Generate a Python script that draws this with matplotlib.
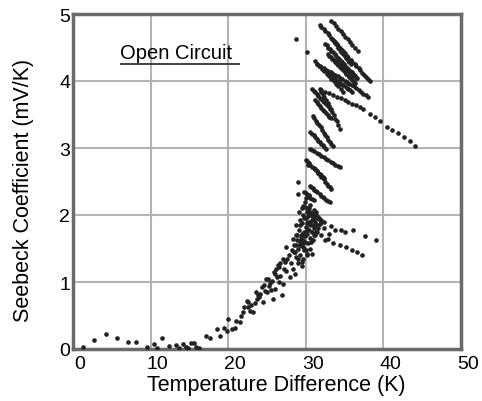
import numpy as np
import matplotlib
matplotlib.use('Agg')
import matplotlib.pyplot as plt
from matplotlib.transforms import ScaledTranslation

plt.rcParams['font.family'] = ['Liberation Sans', 'DejaVu Sans']

# low range, temperature difference below ~17 K
t_low = [1.3, 2.7, 4.2, 5.7, 7.1, 8.1, 9.5, 10.5, 10.8, 11.5, 12.4, 13.3, 13.6,
         14.2, 14.5, 14.8, 15.2, 15.6, 15.9, 16.3]
s_low = [0.03, 0.14, 0.22, 0.17, 0.11, 0.10, 0.03, 0.07, 0.02, 0.16, 0.05, 0.06, 0.02,
         0.08, 0.03, 0.02, 0.09, 0.09, 0.03, 0.02]

# rising part of the curve
t_rise = [17.2, 17.6, 18.5, 18.9, 19.4, 19.8, 20.0, 20.5, 20.9, 21.5, 21.7, 22.4, 22.6,
          22.8, 23.2, 23.7, 23.9, 24.1, 24.5, 24.7, 25.0, 25.2, 25.6, 25.8, 26.0, 26.0,
          26.5, 26.7, 26.7, 26.9, 27.1, 27.5, 27.5, 28.0, 28.4, 28.4, 28.6, 29.0, 29.5,
          29.7, 30.1, 22.1, 23.0, 24.3, 25.4, 26.2, 27.0, 27.8, 28.2, 28.8, 29.2, 24.9,
          26.4, 27.3, 28.9, 21.0, 21.9, 22.5, 23.4, 23.6, 24.0, 24.6, 25.1, 25.5, 25.9,
          26.3, 26.6, 27.2, 27.6, 28.1, 28.5, 28.7, 29.3, 29.6, 29.8]
s_rise = [0.19, 0.17, 0.30, 0.19, 0.32, 0.27, 0.45, 0.30, 0.31, 0.40, 0.50, 0.72, 0.70,
          0.57, 0.55, 0.75, 0.80, 0.82, 0.70, 0.87, 0.85, 0.94, 1.02, 0.75, 0.90, 1.12,
          1.00, 1.09, 1.29, 0.80, 0.97, 1.17, 1.52, 1.07, 1.19, 1.64, 1.12, 1.29, 1.24,
          1.34, 1.42, 0.62, 0.66, 0.92, 0.98, 1.20, 1.35, 1.40, 1.48, 1.55, 1.60, 1.05,
          1.25, 1.30, 1.70, 0.42, 0.55, 0.62, 0.68, 0.85, 0.78, 0.95, 1.05, 0.88, 1.15,
          1.08, 1.22, 1.20, 1.35, 1.28, 1.45, 1.38, 1.55, 1.62, 1.48]

# dense cluster near 30 K
t_knee = [28.6, 28.9, 29.1, 29.3, 29.5, 29.6, 29.8, 29.9, 30.0, 30.1, 30.2, 30.3, 30.4,
          30.5, 30.6, 30.7, 30.8, 30.9, 31.0, 31.2, 31.3, 31.5, 29.2, 29.4, 29.7, 30.0,
          30.3, 30.6, 30.9, 31.1, 29.0, 29.5, 30.2, 30.8, 31.4, 31.7, 32.0, 28.8, 29.9,
          30.5, 29.0, 29.0, 29.5, 30.3,
          28.5, 28.7, 29.0, 29.2, 29.4, 29.6, 29.8, 30.0, 30.2, 30.4, 30.6, 30.8, 31.0,
          31.2, 31.4, 31.6, 29.1, 29.3, 29.5, 29.7, 29.9, 30.1, 30.3, 30.5, 30.7, 30.9,
          31.1, 31.3, 30.0, 30.4]
s_knee = [1.45, 1.62, 1.78, 1.55, 1.88, 1.70, 1.95, 1.60, 1.82, 2.05, 1.72, 1.90, 2.10,
          1.65, 1.85, 2.00, 1.75, 1.95, 1.80, 1.90, 2.05, 1.85, 1.40, 1.68, 1.52, 1.48,
          1.58, 1.50, 1.62, 1.70, 1.35, 1.30, 1.40, 1.42, 1.75, 1.95, 1.90, 1.85, 2.20,
          2.15, 2.49, 2.31, 2.11, 2.74,
          1.55, 1.70, 1.50, 1.92, 1.64, 2.00, 1.75, 1.95, 1.88, 1.78, 2.02, 1.92, 2.08,
          1.70, 1.98, 1.80, 2.05, 1.85, 1.72, 1.58, 1.68, 1.78, 1.98, 1.90, 1.60, 1.85,
          1.95, 1.75, 2.25, 2.30]

# lower branch going to the right
t_branch = [31.8, 32.3, 32.9, 33.3, 33.8, 34.6, 35.1, 36.1, 37.6, 39.0, 32.5, 33.5,
            34.4, 35.2, 35.9, 36.6, 37.3, 32.0, 33.0]
s_branch = [1.86, 1.80, 1.64, 1.84, 1.78, 1.77, 1.74, 1.77, 1.68, 1.63, 1.62, 1.58,
            1.55, 1.52, 1.48, 1.45, 1.41, 1.70, 1.72]

# streaks between 2 and 3 mV/K
t_mid = [29.7, 29.9, 30.1, 30.3, 30.6, 30.8, 31.0, 31.3, 31.5, 31.7, 32.0, 32.3,
         30.5, 30.7, 30.9, 31.1, 31.3, 31.5, 31.8, 32.0, 32.2, 32.4, 32.6, 32.9, 33.1,
         31.2, 31.4, 31.6, 31.8, 32.0, 32.3, 32.5, 32.7, 32.9, 33.1, 33.3,
         30.5, 30.8, 31.1, 31.4, 31.7, 32.0, 32.3, 32.6, 32.9, 33.2, 33.5, 33.8, 34.1, 34.4,
         30.0, 30.2, 30.4, 30.6, 30.8, 31.0, 31.2, 31.4, 31.6, 31.8, 32.0, 32.2, 32.4,
         29.8, 30.0, 30.2, 30.4, 30.6, 30.8, 31.0]
s_mid = [2.14, 2.12, 2.10, 2.08, 2.05, 2.03, 2.01, 1.98, 1.96, 1.94, 1.92, 1.89,
         2.44, 2.42, 2.40, 2.38, 2.36, 2.34, 2.31, 2.29, 2.27, 2.25, 2.23, 2.21, 2.19,
         2.69, 2.66, 2.63, 2.60, 2.57, 2.53, 2.50, 2.47, 2.44, 2.42, 2.39,
         2.99, 2.97, 2.95, 2.93, 2.91, 2.88, 2.86, 2.84, 2.82, 2.79, 2.77, 2.75, 2.73, 2.71,
         2.82, 2.80, 2.77, 2.75, 2.72, 2.70, 2.68, 2.65, 2.63, 2.61, 2.59, 2.57, 2.55,
         2.35, 2.33, 2.30, 2.28, 2.26, 2.24, 2.22]

# streaks between 3 and 4 mV/K
t_upper = [31.8, 32.0, 32.2, 32.4, 32.6, 32.8, 33.0, 33.2, 33.4, 33.6, 33.8, 34.0, 34.2, 34.4,
           30.9, 31.1, 31.3, 31.5, 31.7, 31.9, 32.1, 32.3, 32.5, 32.7, 32.9, 33.1, 33.3, 33.5,
           30.6, 30.8, 31.0, 31.2, 31.4, 31.6, 31.8, 32.0, 32.2, 32.4, 32.6,
           31.2, 31.4, 31.6, 31.8, 32.0, 32.2, 32.4, 32.6, 32.8, 33.0, 33.2,
           30.8, 31.0, 31.2, 31.4, 31.6, 31.8, 32.0, 32.2, 32.4, 32.6, 32.8, 33.1]
s_upper = [3.88, 3.84, 3.80, 3.76, 3.71, 3.67, 3.62, 3.58, 3.53, 3.49, 3.44, 3.40, 3.34, 3.28,
           3.48, 3.45, 3.41, 3.38, 3.34, 3.31, 3.27, 3.23, 3.19, 3.16, 3.12, 3.09, 3.06, 3.03,
           3.24, 3.21, 3.19, 3.16, 3.14, 3.11, 3.09, 3.06, 3.04, 3.01, 2.99,
           3.72, 3.69, 3.66, 3.63, 3.60, 3.57, 3.55, 3.52, 3.50, 3.47, 3.45,
           3.88, 3.85, 3.83, 3.80, 3.78, 3.75, 3.73, 3.70, 3.68, 3.65, 3.63, 3.58]

# top streaks and dense blob, 4-5 mV/K
t_top = [31.8, 32.0, 32.3, 32.5, 32.8, 33.0, 33.3, 33.5, 33.8, 34.0, 34.3, 34.5, 34.8,
         35.0, 35.3, 35.5, 35.8, 36.0, 36.3, 36.5, 36.8, 37.0, 37.3, 37.5, 37.8, 38.0, 38.3,
         33.3, 33.6, 33.9, 34.2, 34.5, 34.8, 35.1, 35.4, 35.7, 36.0, 36.3, 36.7,
         31.4, 31.7, 32.0, 32.3, 32.6, 32.9, 33.2, 33.5, 33.8, 34.1, 34.4, 34.7, 35.0,
         35.3, 35.6, 35.9, 36.2, 36.5, 36.8, 37.1, 37.4, 37.7, 38.0,
         32.5, 32.7, 32.9, 33.1, 33.3, 33.5, 33.7, 33.9, 34.1, 34.3, 34.5, 34.7, 34.9,
         35.1, 35.3, 35.5, 35.7, 35.9, 36.1, 36.3, 36.5,
         32.8, 33.0, 33.2, 33.4, 33.6, 33.8, 34.0, 34.2, 34.4, 34.6, 34.8, 35.0, 35.2,
         35.4, 35.6, 35.8, 36.0, 36.2, 36.4,
         33.4, 33.6, 33.8, 34.0, 34.2, 34.4, 34.6, 34.8, 35.0, 35.2, 35.4, 35.6, 35.8,
         33.0, 33.25, 33.5, 33.75, 34.0, 34.25, 34.5, 34.75, 35.0, 35.25, 35.5, 35.75, 36.0,
         34.0, 34.2, 34.4, 34.6, 34.8, 35.0, 35.2, 35.4, 35.6, 35.8, 36.0, 36.2, 36.4, 36.6,
         31.2, 31.5, 31.8, 32.1, 32.4, 32.7, 33.0, 33.3, 33.6, 33.9, 34.2, 34.5, 34.8,
         28.7, 30.1]
s_top = [4.84, 4.81, 4.78, 4.74, 4.71, 4.68, 4.64, 4.61, 4.58, 4.55, 4.51, 4.48, 4.45,
         4.42, 4.38, 4.35, 4.32, 4.29, 4.25, 4.22, 4.19, 4.16, 4.12, 4.09, 4.06, 4.03, 4.00,
         4.90, 4.86, 4.82, 4.78, 4.74, 4.70, 4.66, 4.62, 4.58, 4.54, 4.50, 4.45,
         4.25, 4.23, 4.21, 4.19, 4.17, 4.15, 4.13, 4.11, 4.09, 4.07, 4.05, 4.03, 4.00,
         3.98, 3.96, 3.94, 3.92, 3.90, 3.87, 3.84, 3.81, 3.79, 3.76,
         4.55, 4.53, 4.50, 4.48, 4.45, 4.43, 4.40, 4.38, 4.35, 4.33, 4.30, 4.28, 4.25,
         4.23, 4.20, 4.18, 4.15, 4.13, 4.10, 4.08, 4.05,
         4.40, 4.38, 4.36, 4.33, 4.31, 4.28, 4.26, 4.24, 4.21, 4.19, 4.16, 4.14, 4.11,
         4.09, 4.06, 4.04, 4.01, 3.99, 3.97,
         4.62, 4.59, 4.56, 4.53, 4.50, 4.47, 4.44, 4.41, 4.38, 4.35, 4.32, 4.29, 4.26,
         4.10, 4.08, 4.05, 4.03, 4.00, 3.98, 3.96, 3.94, 3.92, 3.90, 3.88, 3.86, 3.84,
         4.30, 4.29, 4.27, 4.25, 4.23, 4.21, 4.19, 4.17, 4.15, 4.13, 4.11, 4.09, 4.07, 4.05,
         4.30, 4.26, 4.22, 4.18, 4.15, 4.11, 4.07, 4.03, 4.00, 3.96, 3.92, 3.88, 3.84,
         4.62, 4.44]

# long dotted tail toward 44 K
t_tail = [32.0, 32.5, 33.0, 33.5, 34.0, 34.5, 35.0, 35.5, 36.0, 36.5, 37.0, 37.4,
          38.3, 38.9, 39.6, 40.4, 41.1, 41.9, 42.6, 43.4, 44.1]
s_tail = [3.87, 3.84, 3.82, 3.79, 3.76, 3.74, 3.71, 3.69, 3.66, 3.64, 3.61, 3.58,
          3.51, 3.46, 3.40, 3.32, 3.27, 3.22, 3.16, 3.10, 3.03]

temp_diff = np.concatenate([t_low, t_rise, t_knee, t_branch, t_mid, t_upper, t_top, t_tail])
seebeck = np.concatenate([s_low, s_rise, s_knee, s_branch, s_mid, s_upper, s_top, s_tail])

fig = plt.figure(figsize=(4.82, 4.02), dpi=100)
ax = fig.add_axes([73 / 482, 52 / 402, 388 / 482, 335 / 402])

ax.scatter(temp_diff, seebeck, s=11, color='#222222', linewidths=0, zorder=3)

ax.set_xlim(0, 50)
ax.set_ylim(0, 5)
ax.set_xticks([0, 10, 20, 30, 40, 50])
ax.set_yticks([0, 1, 2, 3, 4, 5])
ax.grid(True, color='#b4b4b4', linewidth=1.5)
ax.set_axisbelow(True)
for sp in ax.spines.values():
    sp.set_color('#6a6a6a')
    sp.set_linewidth(2.5)
ax.tick_params(length=0, labelsize=14)
ax.tick_params(axis='x', pad=4)
ax.tick_params(axis='y', pad=2)

# x tick labels sit a little to the right of their grid lines
for lab in ax.get_xticklabels():
    lab.set_transform(lab.get_transform() + ScaledTranslation(7 / 100, 0, fig.dpi_scale_trans))

ax.set_xlabel('Temperature Difference (K)', fontsize=15.5)
ax.set_ylabel('Seebeck Coefficient (mV/K)', fontsize=15.5)
ax.xaxis.set_label_coords(0.523, -0.075)
ax.yaxis.set_label_coords(-0.10, 0.475)

ax.text(6.0, 4.42, 'Open Circuit', fontsize=14.5, ha='left', va='center')
ax.plot([6.0, 21.5], [4.255, 4.255], color='#333333', linewidth=1.3, solid_capstyle='butt')

fig.savefig('out.png', dpi=100)
